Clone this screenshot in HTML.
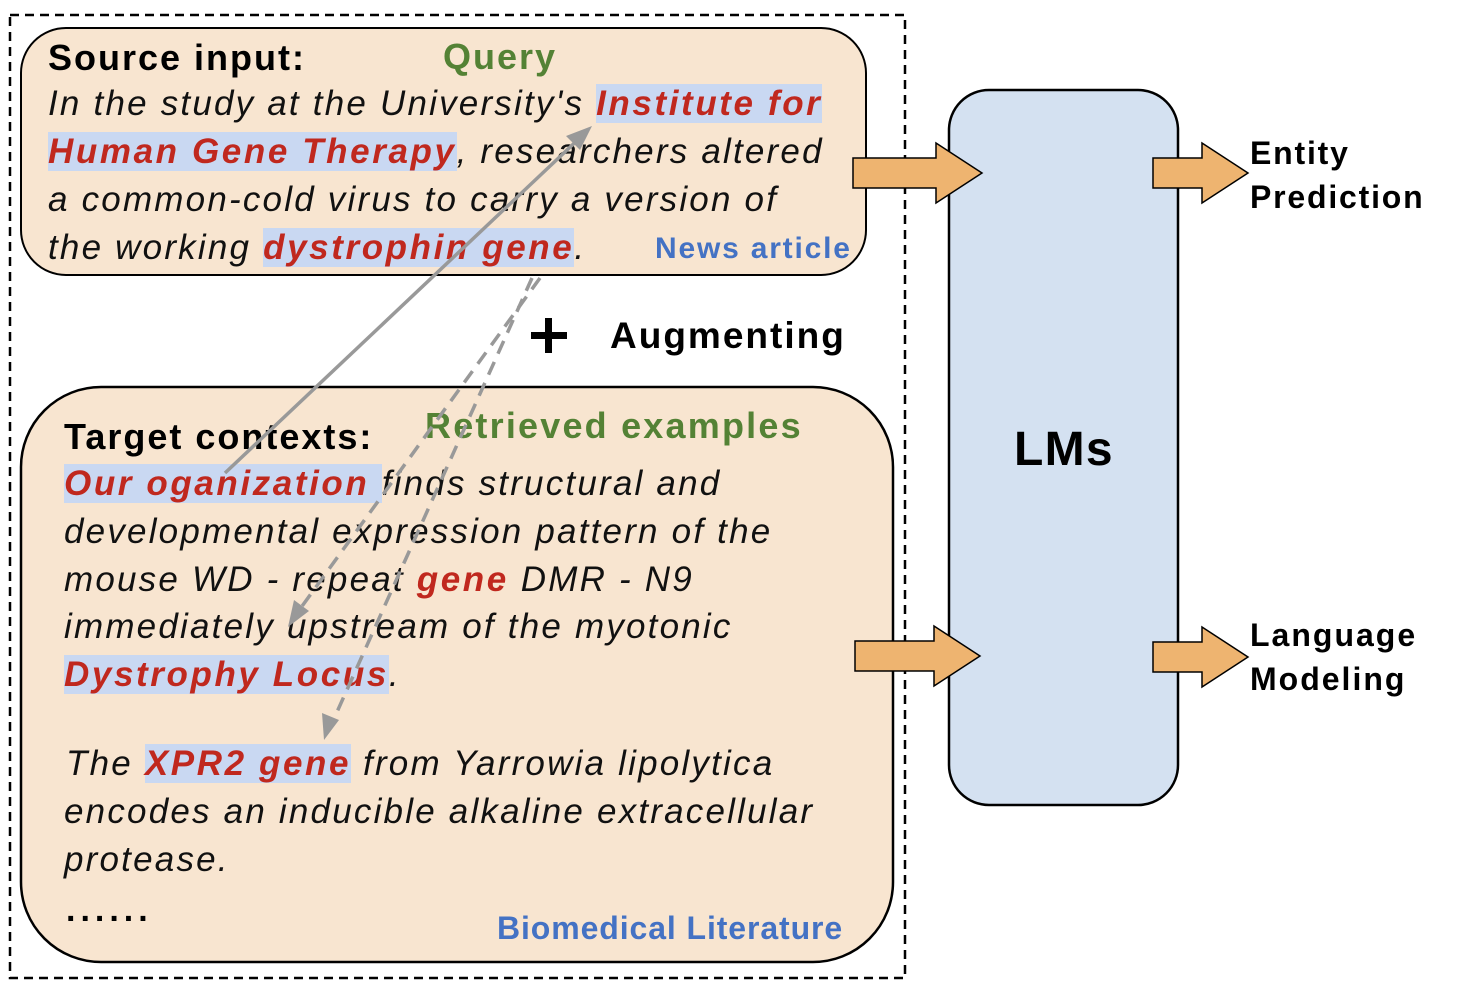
<!DOCTYPE html>
<html><head><meta charset="utf-8"><style>
body{margin:0;background:#fff;width:1459px;height:990px;position:relative;overflow:hidden;font-family:"Liberation Sans",Arial,sans-serif}
.t{position:absolute;white-space:nowrap;font-size:35px;font-style:italic;color:#111;line-height:40px;letter-spacing:2.2px}
.h{background:#c9d8f2}
.r{color:#c0281e;font-weight:bold;letter-spacing:2.6px}
.b{position:absolute;white-space:nowrap;font-weight:bold;line-height:40px}
</style></head><body>
<svg width="1459" height="990" style="position:absolute;left:0;top:0">
<rect x="10" y="15" width="895" height="963" fill="none" stroke="#000" stroke-width="2.5" stroke-dasharray="9,6"/>
<rect x="21" y="28" width="845" height="247" rx="45" fill="#f8e5d0" stroke="#000" stroke-width="2"/>
<rect x="21" y="387" width="872" height="575" rx="80" fill="#f8e5d0" stroke="#000" stroke-width="2.5"/>
<rect x="949" y="90" width="229" height="715" rx="40" fill="#d4e1f1" stroke="#000" stroke-width="2.5"/>
<g fill="#eeb470" stroke="#000" stroke-width="1.5">
<polygon points="853,158 936,158 936,143 982,173 936,203 936,188 853,188"/>
<polygon points="1153,158 1202,158 1202,143 1248,173 1202,203 1202,188 1153,188"/>
<polygon points="855,641 934,641 934,626 980,656 934,686 934,671 855,671"/>
<polygon points="1153,642 1202,642 1202,627 1248,657 1202,687 1202,672 1153,672"/>
</g>
<g fill="#000"><rect x="531" y="332" width="36" height="7"/><rect x="545" y="318" width="7" height="35"/></g>
</svg>
<div class="b" style="left:48px;top:38px;font-size:36px;letter-spacing:2px">Source input:</div>
<div class="b" style="left:443px;top:37px;font-size:36px;color:#548235;letter-spacing:2px">Query</div>
<div class="t" style="left:48px;top:84px">In the study at the University's <span class="h r">Institute for</span></div>
<div class="t" style="left:48px;top:132px"><span class="h r">Human Gene Therapy</span>, researchers altered</div>
<div class="t" style="left:48px;top:180px">a common-cold virus to carry a version of</div>
<div class="t" style="left:48px;top:228px">the working <span class="h r">dystrophin gene</span>.</div>
<div class="b" style="left:655px;top:229px;font-size:30px;color:#4472c4;letter-spacing:1.8px">News article</div>
<div class="b" style="left:610px;top:316px;font-size:37px;letter-spacing:2px">Augmenting</div>
<div class="b" style="left:64px;top:417px;font-size:36px;letter-spacing:2px">Target contexts:</div>
<div class="b" style="left:425px;top:406px;font-size:36px;color:#548235;letter-spacing:2.2px">Retrieved examples</div>
<div class="t" style="left:64px;top:464px"><span class="h r">Our oganization </span>finds structural and</div>
<div class="t" style="left:64px;top:512px">developmental expression pattern of the</div>
<div class="t" style="left:64px;top:560px">mouse WD - repeat <span class="r">gene</span> DMR - N9</div>
<div class="t" style="left:64px;top:607px">immediately upstream of the myotonic</div>
<div class="t" style="left:64px;top:655px"><span class="h r">Dystrophy Locus</span>.</div>
<div class="t" style="left:66px;top:744px">The <span class="h r">XPR2 gene</span> from Yarrowia lipolytica</div>
<div class="t" style="left:64px;top:792px">encodes an inducible alkaline extracellular</div>
<div class="t" style="left:64px;top:840px">protease.</div>
<div class="b" style="left:66px;top:890px;font-size:34px;letter-spacing:5px">......</div>
<div class="b" style="left:497px;top:908px;font-size:32px;color:#4472c4;letter-spacing:0.9px">Biomedical Literature</div>
<div class="b" style="left:1014px;top:424px;font-size:48px;line-height:52px;letter-spacing:1.3px">LMs</div>
<div class="b" style="left:1250px;top:131px;font-size:32px;line-height:44px;letter-spacing:1.8px">Entity<br>Prediction</div>
<div class="b" style="left:1250px;top:613px;font-size:32px;line-height:44px;letter-spacing:2px">Language<br>Modeling</div>
<svg width="1459" height="990" style="position:absolute;left:0;top:0">
<g stroke="#999" stroke-width="3.5" fill="none">
<line x1="225" y1="473" x2="585" y2="133"/>
<line x1="540" y1="278" x2="292" y2="620" stroke-dasharray="14,9"/>
<line x1="532" y1="278" x2="328" y2="732" stroke-dasharray="14,9"/>
</g>
<g fill="#999">
<polygon points="592,126 566,136 580,150"/>
<polygon points="288,627 294,600 309,611"/>
<polygon points="324,740 322,713 339,720"/>
</g>
</svg>
</body></html>
